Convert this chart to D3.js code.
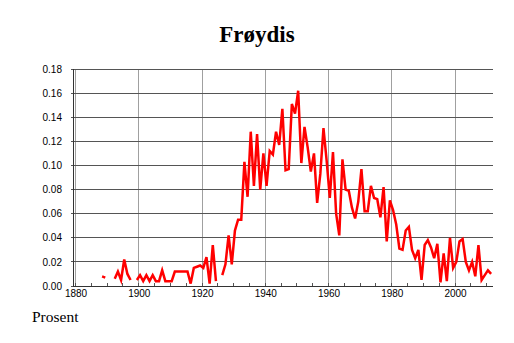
<!DOCTYPE html>
<html>
<head>
<meta charset="utf-8">
<script src="https://cdn.jsdelivr.net/npm/d3@7"></script>
<style>
  body { margin: 0; background: #fff; }
  svg { display: block; }
</style>
</head>
<body>
<div id="chart"></div>
<script>
// Share of people named Frøydis, per year (null = no data that year)
const firstYear = 1888;
const shares = [
  0.008, 0.007, null, null, 0.006, 0.012, 0.005, 0.022, 0.010, 0.005, // 1888-1897
  null, 0.005, 0.009, 0.004, 0.009, 0.004, 0.009, 0.004, 0.004, 0.013, // 1898-1907
  0.004, 0.004, 0.004, 0.012, 0.012, 0.012, 0.012, 0.012, 0.002, 0.015, // 1908-1917
  0.016, 0.017, 0.015, 0.024, 0.002, 0.034, 0.004, null, 0.009, 0.018, // 1918-1927
  0.042, 0.018, 0.046, 0.055, 0.055, 0.103, 0.074, 0.128, 0.083, 0.126, // 1928-1937
  0.080, 0.110, 0.083, 0.112, 0.109, 0.128, 0.117, 0.147, 0.096, 0.097, // 1938-1947
  0.151, 0.143, 0.162, 0.102, 0.132, 0.115, 0.095, 0.110, 0.069, 0.093, // 1948-1957
  0.131, 0.104, 0.073, 0.111, 0.060, 0.042, 0.105, 0.080, 0.079, 0.065, // 1958-1967
  0.056, 0.070, 0.097, 0.062, 0.062, 0.083, 0.073, 0.072, 0.057, 0.082, // 1968-1977
  0.037, 0.071, 0.063, 0.051, 0.031, 0.030, 0.046, 0.049, 0.030, 0.023, // 1978-1987
  0.030, 0.005, 0.034, 0.038, 0.032, 0.023, 0.035, 0.003, 0.027, 0.004, // 1988-1997
  0.040, 0.015, 0.020, 0.037, 0.039, 0.020, 0.013, 0.020, 0.008, 0.034, // 1998-2007
  0.005, 0.009, 0.013, 0.010                                            // 2008-2011
];
const xTicks = [1880, 1900, 1920, 1940, 1960, 1980, 2000];
const yTicks = [0, 0.02, 0.04, 0.06, 0.08, 0.10, 0.12, 0.14, 0.16, 0.18];

const data = shares.map((v, i) => ({ year: firstYear + i, value: v }));

const width = 514, height = 343;
const plot = { left: 73, right: 493, top: 69, bottom: 286 };

const svg = d3.select("#chart")
  .append("svg")
  .attr("width", width)
  .attr("height", height);

const x = d3.scaleLinear().domain([1879.2, 2012]).range([plot.left, plot.right]);
const y = d3.scaleLinear().domain([0, 0.18]).range([plot.bottom, plot.top]);

// title
svg.append("text")
  .attr("x", 257)
  .attr("y", 42)
  .attr("text-anchor", "middle")
  .attr("font-family", "Liberation Serif, Times New Roman, serif")
  .attr("font-weight", "bold")
  .attr("font-size", 23)
  .text("Frøydis");

// vertical grid
svg.append("g")
  .selectAll("line")
  .data(xTicks)
  .join("line")
  .attr("x1", d => x(d)).attr("x2", d => x(d))
  .attr("y1", plot.top).attr("y2", plot.bottom)
  .attr("stroke", "#a0a0a0")
  .attr("stroke-width", 1)
  .attr("shape-rendering", "crispEdges");

// horizontal grid
svg.append("g")
  .selectAll("line")
  .data(yTicks)
  .join("line")
  .attr("x1", plot.left - 2).attr("x2", plot.right)
  .attr("y1", d => y(d)).attr("y2", d => y(d))
  .attr("stroke", "#555")
  .attr("stroke-width", 1)
  .attr("shape-rendering", "crispEdges");

// axes lines
svg.append("line")
  .attr("x1", plot.left).attr("x2", plot.left)
  .attr("y1", plot.top).attr("y2", plot.bottom)
  .attr("stroke", "#333").attr("shape-rendering", "crispEdges");
svg.append("line")
  .attr("x1", plot.left).attr("x2", plot.right)
  .attr("y1", plot.bottom).attr("y2", plot.bottom)
  .attr("stroke", "#333").attr("shape-rendering", "crispEdges");

// x axis: labels at 20 years, minor ticks every 5 years
const xAxis = d3.axisBottom(x)
  .tickValues(xTicks)
  .tickSize(0)
  .tickPadding(4)
  .tickFormat(d3.format("d"));
const gx = svg.append("g")
  .attr("transform", `translate(0,${plot.bottom})`)
  .call(xAxis);
gx.select(".domain").remove();
gx.selectAll("text")
  .attr("font-family", "Liberation Sans, Arial, sans-serif")
  .attr("font-size", 10)
  .attr("fill", "#000");

svg.append("g")
  .selectAll("line")
  .data(d3.range(1880, 2012, 5))
  .join("line")
  .attr("x1", d => x(d)).attr("x2", d => x(d))
  .attr("y1", plot.bottom - 3).attr("y2", plot.bottom)
  .attr("stroke", "#555")
  .attr("shape-rendering", "crispEdges");

// y axis
const yAxis = d3.axisLeft(y)
  .tickValues(yTicks)
  .tickSize(0)
  .tickPadding(11)
  .tickFormat(d3.format(".2f"));
const gy = svg.append("g")
  .attr("transform", `translate(${plot.left},0)`)
  .call(yAxis);
gy.select(".domain").remove();
gy.selectAll("text")
  .attr("font-family", "Liberation Sans, Arial, sans-serif")
  .attr("font-size", 10)
  .attr("fill", "#000");

// series (plotted at mid-year)
const line = d3.line()
  .defined(d => d.value !== null)
  .x(d => x(d.year + 0.4))
  .y(d => y(d.value));

svg.append("path")
  .datum(data)
  .attr("fill", "none")
  .attr("stroke", "#ff0000")
  .attr("stroke-width", 2.5)
  .attr("stroke-linejoin", "miter")
  .attr("d", line);

// unit label
svg.append("text")
  .attr("x", 32)
  .attr("y", 322)
  .attr("font-family", "Liberation Serif, Times New Roman, serif")
  .attr("font-size", 15.5)
  .text("Prosent");
</script>
</body>
</html>
